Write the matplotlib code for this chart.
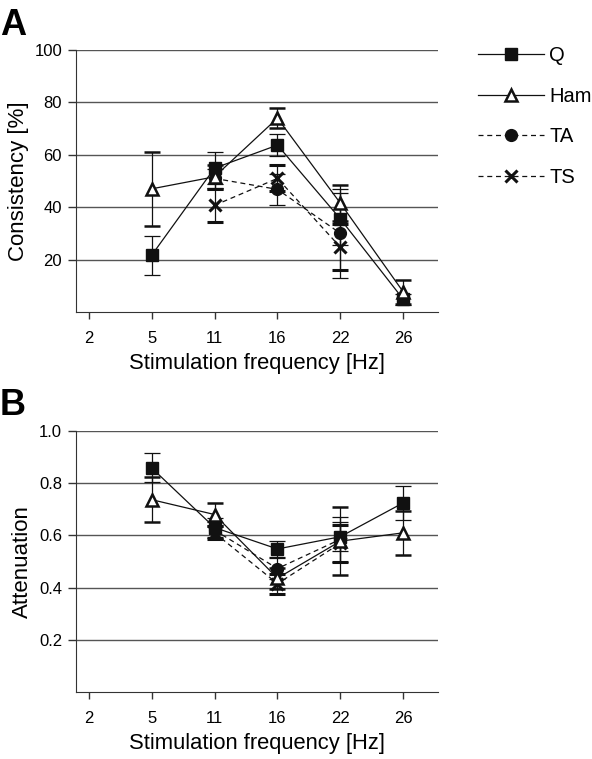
import numpy as np
import matplotlib
matplotlib.use("Agg")
import matplotlib.pyplot as plt
from matplotlib.lines import Line2D

plt.rcParams['font.family'] = ['Liberation Sans', 'DejaVu Sans']

freq_labels = ['2', '5', '11', '16', '22', '26']

# panel A: consistency [%]
cons_q_x = [1, 2, 3, 4, 5]
cons_q = [21.6, 54.9, 63.7, 35.5, 4.8]
cons_q_err = [7.5, 6.0, 4.2, 10.0, 2.0]
cons_ham_x = [1, 2, 3, 4, 5]
cons_ham = [47.0, 51.6, 74.0, 41.5, 7.6]
cons_ham_err = [14.0, 4.5, 3.8, 6.8, 4.5]
cons_ta_x = [2, 3, 4]
cons_ta = [51.0, 46.8, 30.0]
cons_ta_err = [3.5, 5.8, 17.0]
cons_ts_x = [2, 3, 4]
cons_ts = [40.7, 51.0, 24.7]
cons_ts_err = [6.4, 5.0, 8.7]

# panel B: attenuation
att_q_x = [1, 2, 3, 4, 5]
att_q = [0.859, 0.630, 0.548, 0.595, 0.725]
att_q_err = [0.055, 0.035, 0.030, 0.055, 0.065]
att_ham_x = [1, 2, 3, 4, 5]
att_ham = [0.737, 0.680, 0.436, 0.578, 0.610]
att_ham_err = [0.085, 0.045, 0.040, 0.130, 0.085]
att_ta_x = [2, 3, 4]
att_ta = [0.620, 0.473, 0.585]
att_ta_err = [0.030, 0.040, 0.085]
att_ts_x = [2, 3, 4]
att_ts = [0.610, 0.415, 0.570]
att_ts_err = [0.025, 0.038, 0.070]

W, H = 592, 759
fig = plt.figure(figsize=(W / 100, H / 100), dpi=100)

def px_axes(left, top, right, bottom):
    return fig.add_axes([left / W, 1 - bottom / H, (right - left) / W, (bottom - top) / H])

axA = px_axes(76, 50, 438, 312)
axB = px_axes(76, 431, 438, 692)

styles = {
    'Q': dict(marker='s', ls='-', mfc='#111111', mec='#111111', ms=8),
    'Ham': dict(marker='^', ls='-', mfc='white', mec='#111111', ms=9, mew=1.8),
    'TA': dict(marker='o', ls=(0, (4, 3)), mfc='#111111', mec='#111111', ms=8.5),
    'TS': dict(marker='x', ls=(0, (4, 3)), mfc='#111111', mec='#111111', ms=9, mew=2.2),
}

def draw(ax, series):
    for name, x, y, e in series:
        st = styles[name]
        ax.errorbar(x, y, yerr=e, color='#111111', lw=0.9, elinewidth=0.9,
                    capsize=6, capthick=0.9, zorder=3, **st)

def style_axis(ax, ylim, yticks, ytl):
    ax.set_xlim(-0.2, 5.55)
    ax.set_ylim(*ylim)
    ax.set_xticks(range(6))
    ax.set_xticklabels(freq_labels)
    ax.set_yticks(yticks)
    ax.set_yticklabels(ytl)
    for y in yticks:
        ax.axhline(y, color='#555555', lw=1.0, zorder=1)
    ax.spines['top'].set_visible(False)
    ax.spines['right'].set_visible(False)
    ax.spines['left'].set_color('#333333')
    ax.spines['bottom'].set_color('#333333')
    ax.spines['left'].set_bounds(ylim[0], yticks[-1])
    ax.tick_params(axis='both', labelsize=12, color='#333333', length=5, width=1.0)
    ax.tick_params(axis='x', pad=9)
    ax.tick_params(axis='y', length=6, pad=4)
    ax.set_xlabel('Stimulation frequency [Hz]', fontsize=15.8, labelpad=5)

draw(axA, [('TA', cons_ta_x, cons_ta, cons_ta_err),
           ('TS', cons_ts_x, cons_ts, cons_ts_err),
           ('Q', cons_q_x, cons_q, cons_q_err),
           ('Ham', cons_ham_x, cons_ham, cons_ham_err)])
style_axis(axA, (0, 100), [20, 40, 60, 80, 100], ['20', '40', '60', '80', '100'])
axA.set_ylabel('Consistency [%]', fontsize=16, labelpad=4)

draw(axB, [('TA', att_ta_x, att_ta, att_ta_err),
           ('TS', att_ts_x, att_ts, att_ts_err),
           ('Q', att_q_x, att_q, att_q_err),
           ('Ham', att_ham_x, att_ham, att_ham_err)])
style_axis(axB, (0, 1.0), [0.2, 0.4, 0.6, 0.8, 1.0], ['0.2', '0.4', '0.6', '0.8', '1.0'])
axB.set_ylabel('Attenuation', fontsize=16, labelpad=4)

handles = [Line2D([], [], color='#111111', lw=0.9, label=n, **styles[n]) for n in ['Q', 'Ham', 'TA', 'TS']]
fig.legend(handles=handles, loc='upper left', bbox_to_anchor=(478 / W, 1 - 46 / H),
           frameon=False, fontsize=14.5, handlelength=3.3, handletextpad=0.25,
           labelspacing=1.08, borderpad=0, borderaxespad=0)

fig.text(0 / W, 1 - 8 / H, 'A', fontsize=26, fontweight='bold', va='top', ha='left')
fig.text(0 / W, 1 - 388 / H, 'B', fontsize=26, fontweight='bold', va='top', ha='left')

fig.savefig('out.png', dpi=100)
